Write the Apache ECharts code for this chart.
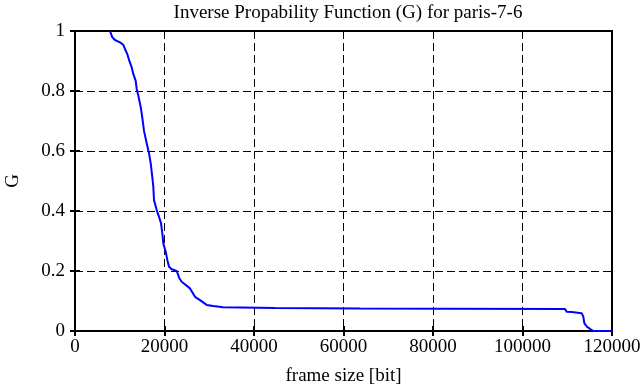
<!DOCTYPE html>
<html>
<head>
<meta charset="utf-8">
<script src="https://cdn.jsdelivr.net/npm/echarts@6/dist/echarts.min.js"></script>
<style>html,body{margin:0;padding:0;background:#fff}#c{width:644px;height:387px}</style>
</head>
<body>
<div id="c"></div>
<script>
const titleText = "Inverse Propability Function (G) for paris-7-6";
const xName = "frame size [bit]";
const yName = "G";
const xTicks = [0, 20000, 40000, 60000, 80000, 100000, 120000];
const yTicks = [0, 0.2, 0.4, 0.6, 0.8, 1];
const frameSize = [7820, 8340, 8940, 10060, 10790, 11170, 11690, 12130, 12670, 13030, 13560, 13790, 14150, 14680, 15040, 15420, 16020, 16540, 16920, 17270, 17500, 17650, 18260, 18700, 19220, 19510, 19730, 20270, 20630, 21010, 21610, 22730, 23310, 23840, 25700, 26820, 27930, 29430, 30900, 33100, 44700, 63700, 83100, 109500, 109880, 110990, 113230, 113590, 113810, 114350, 115090, 115820, 120000];
const gValues = [1.0, 0.979, 0.970, 0.962, 0.954, 0.94, 0.923, 0.901, 0.879, 0.857, 0.834, 0.807, 0.784, 0.747, 0.711, 0.667, 0.626, 0.592, 0.559, 0.514, 0.481, 0.437, 0.403, 0.384, 0.359, 0.326, 0.292, 0.264, 0.237, 0.214, 0.206, 0.200, 0.176, 0.164, 0.142, 0.114, 0.103, 0.087, 0.083, 0.079, 0.077, 0.075, 0.074, 0.073, 0.064, 0.063, 0.059, 0.048, 0.026, 0.015, 0.007, 0, 0];

const font = "Liberation Serif";
const fs = 19;
const chart = echarts.init(document.getElementById('c'), null, {renderer: 'canvas'});
const data = frameSize.map((x, i) => [x, gValues[i]]);
const grid = {left: 75, right: 32, top: 31, bottom: 56, show: true, borderColor: '#000', borderWidth: 2, backgroundColor: 'transparent', containLabel: false, outerBoundsMode: 'none'};
const xMin = xTicks[0], xMax = xTicks[xTicks.length - 1], xInt = xTicks[1] - xTicks[0];
const yMin = yTicks[0], yMax = yTicks[yTicks.length - 1], yInt = yTicks[1] - yTicks[0];
const splitLine = {show: true, lineStyle: {color: '#000', width: 1, type: [8, 4]}};
chart.setOption({
  animation: false,
  backgroundColor: '#fff',
  title: {
    text: titleText, left: 343, top: -1, textAlign: 'center',
    textStyle: {fontFamily: font, fontSize: fs, fontWeight: 'normal', color: '#000'}
  },
  grid: grid,
  xAxis: [{
    type: 'value', min: xMin, max: xMax, interval: xInt,
    name: xName, nameLocation: 'middle', nameGap: 36,
    nameTextStyle: {fontFamily: font, fontSize: fs, color: '#000'},
    axisLine: {show: true, lineStyle: {color: '#000', width: 2}},
    axisTick: {show: true, inside: true, length: 5, lineStyle: {color: '#000', width: 2}},
    axisLabel: {fontFamily: font, fontSize: fs, color: '#000', margin: 7, formatter: v => String(v)},
    splitLine: splitLine
  }, {
    type: 'value', position: 'top', min: xMin, max: xMax, interval: xInt,
    axisLine: {show: true, lineStyle: {color: '#000', width: 2}},
    axisTick: {show: true, inside: true, length: 5, lineStyle: {color: '#000', width: 2}},
    axisLabel: {show: false}, splitLine: {show: false}
  }],
  yAxis: [{
    type: 'value', min: yMin, max: yMax, interval: yInt,
    name: yName, nameLocation: 'middle', nameGap: 52,
    nameTextStyle: {fontFamily: font, fontSize: fs, color: '#000'},
    axisLine: {show: true, lineStyle: {color: '#000', width: 2}},
    axisTick: {show: true, inside: true, length: 5, lineStyle: {color: '#000', width: 2}},
    axisLabel: {fontFamily: font, fontSize: fs, color: '#000', margin: 10},
    splitLine: splitLine
  }, {
    type: 'value', position: 'right', min: yMin, max: yMax, interval: yInt,
    axisLine: {show: true, lineStyle: {color: '#000', width: 2}},
    axisTick: {show: true, inside: true, length: 5, lineStyle: {color: '#000', width: 2}},
    axisLabel: {show: false}, splitLine: {show: false}
  }],
  series: [{
    type: 'line', data: data, xAxisIndex: 0, yAxisIndex: 0,
    showSymbol: false, symbol: 'none',
    lineStyle: {color: '#0000ff', width: 2}, z: 5
  }]
});
</script>
</body>
</html>
